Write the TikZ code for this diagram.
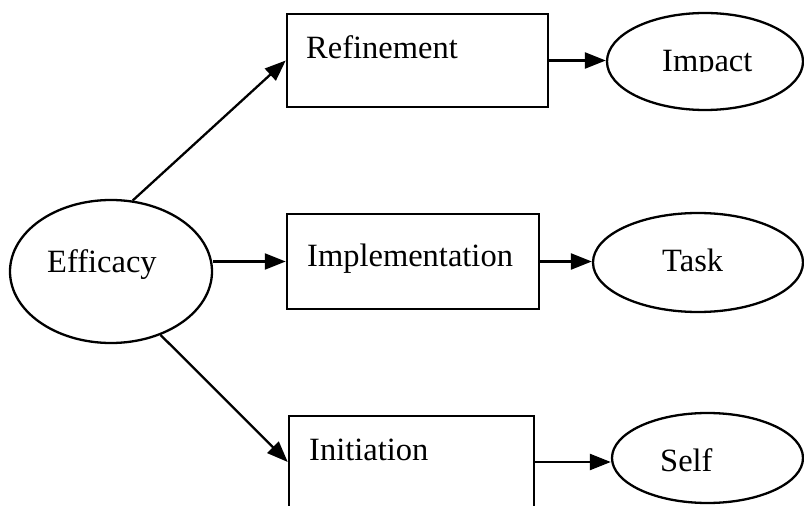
\documentclass[tikz,border=0pt]{standalone}
\usepackage{fontspec}
\setmainfont{Liberation Serif}
\usetikzlibrary{shapes.geometric,arrows.meta}

\tikzset{
  stage/.style={draw, line width=2.5bp, rectangle, inner sep=0pt},
  outcome/.style={draw, line width=2.3bp, ellipse, inner sep=0pt},
  lbl/.style={anchor=base west, inner sep=0pt, font=\fontsize{32.5bp}{39bp}\selectfont},
  link/.style={line width=2.3bp, -{Triangle[length=21bp,width=16bp]}}
}

\begin{document}
\begin{tikzpicture}[x=1bp, y=-1bp]
  \useasboundingbox (0,0) rectangle (804,506);
  \clip (0,0) rectangle (804,506);
  \fill[white] (0,0) rectangle (804,506);

  % source construct
  \node[outcome, minimum width=202bp, minimum height=143bp] (eff) at (111,271.5) {};
  \node[lbl] (effT) at (47,273) {Efficacy};

  % three stages
  \node[stage, minimum width=261bp, minimum height=93bp] (ref) at (417.5,60.5) {};
  \node[lbl] (refT) at (306,59) {Refinement};
  \node[stage, minimum width=252bp, minimum height=95bp] (impl) at (413,261.5) {};
  \node[lbl] (implT) at (307,267) {Implementation};
  \node[stage, minimum width=245bp, minimum height=92bp] (ini) at (411.5,462) {};
  \node[lbl] (iniT) at (309,460) {Initiation};

  % outcomes
  \node[outcome, minimum width=196bp, minimum height=97bp] (imp) at (705,61.5) {};
  \begin{scope}
    \clip (600,0) rectangle (804,72);
    \node[lbl] (impT) at (662,72) {Impact};
  \end{scope}
  \node[outcome, minimum width=210bp, minimum height=99bp] (task) at (698,262.5) {};
  \node[lbl] (taskT) at (662,271.5) {Task};
  \node[outcome, minimum width=191bp, minimum height=90bp] (self) at (707.5,458) {};
  \node[lbl] (selfT) at (660,471.5) {Self};

  % connectors
  \draw[link] (eff.73) -- (ref.west);
  \draw[link] (impl.west -| eff.east) -- (impl.west);
  \draw[link] (eff.-52) -- (ini.west);
  \draw[link] (ref.east) -- (ref.east -| imp.west);
  \draw[link] (impl.east) -- (impl.east -| task.west);
  \draw[link] (ini.east) -- (ini.east -| self.west);
\end{tikzpicture}
\end{document}
